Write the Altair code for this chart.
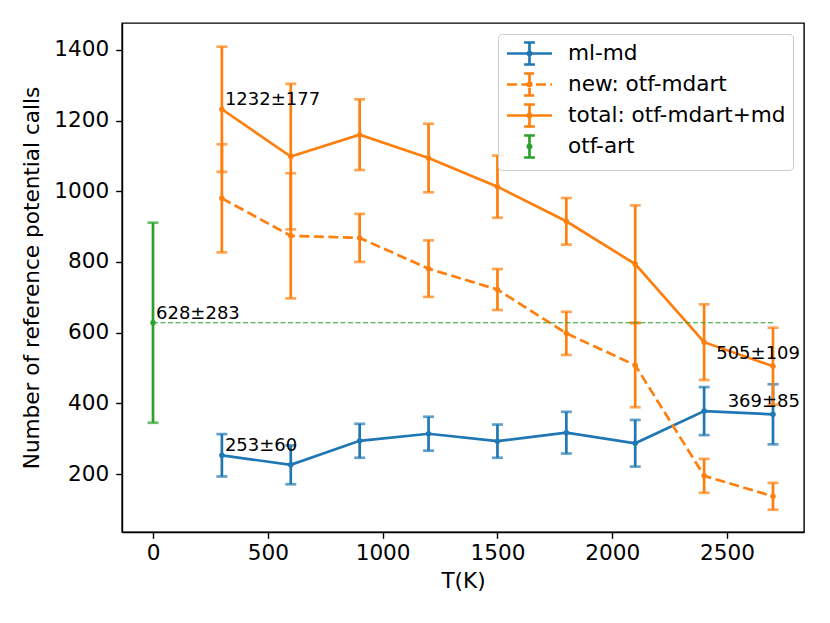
import altair as alt
import pandas as pd

# ---------------- data ----------------
T = [300, 600, 900, 1200, 1500, 1800, 2100, 2400, 2700]
ml_md = [253, 226, 294, 314, 293, 317, 287, 378, 369]
ml_md_err = [60, 55, 48, 48, 47, 59, 66, 68, 85]
new_mdart = [980, 874, 868, 781, 722, 598, 508, 195, 137]
new_mdart_err = [153, 177, 68, 80, 58, 61, 119, 48, 38]
total = [1232, 1098, 1160, 1094, 1013, 915, 794, 573, 505]
total_err = [177, 206, 100, 97, 88, 66, 166, 107, 109]
art_T = [0]
art = [628]
art_err = [283]
hline_T = [0, 2700]

names = ["ml-md", "new: otf-mdart", "total: otf-mdart+md", "otf-art"]
colors = ["#1f77b4", "#ff7f0e", "#ff7f0e", "#2ca02c"]

ann_left_text = ["1232±177", "628±283", "253±60"]
ann_left_T = [300, 0, 300]
ann_left_v = [1232, 628, 253]
ann_right_text = ["505±109", "369±85"]
ann_right_T = [2700, 2700]
ann_right_v = [505, 369]

x_ticks = [0, 500, 1000, 1500, 2000, 2500]
y_ticks = [200, 400, 600, 800, 1000, 1200, 1400]


def frame(name, xs, vs, es):
    return pd.DataFrame({
        "series": name,
        "T": xs,
        "value": vs,
        "lo": [v - e for v, e in zip(vs, es)],
        "hi": [v + e for v, e in zip(vs, es)],
    })


df_ml = frame(names[0], T, ml_md, ml_md_err)
df_new = frame(names[1], T, new_mdart, new_mdart_err)
df_tot = frame(names[2], T, total, total_err)
df_art = frame(names[3], art_T, art, art_err)
df_h = pd.DataFrame({"T": hline_T, "value": [art[0]] * len(hline_T)})
df_annL = pd.DataFrame({"text": ann_left_text, "T": ann_left_T, "value": ann_left_v})
df_annR = pd.DataFrame({"text": ann_right_text, "T": ann_right_T, "value": ann_right_v})
df_leg = pd.concat([d.head(1) for d in [df_ml, df_new, df_tot, df_art]])

FONT = "DejaVu Sans"
FS = 21.6
LW = 2.7

xscale = alt.Scale(domain=[-135, 2835], nice=False, zero=False)
yscale = alt.Scale(domain=[36, 1476], nice=False, zero=False)
X = alt.X("T:Q", scale=xscale,
          axis=alt.Axis(values=x_ticks, format="d", title="T(K)", titlePadding=7, labelPadding=4))
Y = alt.Y("value:Q", scale=yscale,
          axis=alt.Axis(values=y_ticks, format="d", labelPadding=7,
                        title="Number of reference potential calls", titlePadding=10))


def series_layers(df, color, dash=None, line=True):
    base = alt.Chart(df)
    rule = base.mark_rule(color=color, strokeWidth=LW).encode(
        x=X, y=alt.Y("lo:Q", scale=yscale), y2="hi:Q")
    cap_lo = base.mark_tick(color=color, orient="horizontal", size=11, thickness=LW).encode(
        x=X, y=alt.Y("lo:Q", scale=yscale))
    cap_hi = base.mark_tick(color=color, orient="horizontal", size=11, thickness=LW).encode(
        x=X, y=alt.Y("hi:Q", scale=yscale))
    pts = base.mark_point(color=color, filled=True, size=30, opacity=1).encode(x=X, y=Y)
    layers = [rule, cap_lo, cap_hi]
    if line:
        kw = dict(color=color, strokeWidth=LW)
        if dash:
            kw["strokeDash"] = dash
        layers.append(base.mark_line(**kw).encode(x=X, y=Y))
    layers.append(pts)
    return layers


P_LINE = ("M-2.05,0H2.05M0,-1V1M-0.49,-1H0.49M-0.49,1H0.49"
          "M-0.15,0A0.15,0.15 0 1,0 0.15,0A0.15,0.15 0 1,0 -0.15,0Z")
P_BAR = ("M0,-1V1M-0.49,-1H0.49M-0.49,1H0.49"
         "M-0.15,0A0.15,0.15 0 1,0 0.15,0A0.15,0.15 0 1,0 -0.15,0Z")

leg = alt.Legend(title=None, orient="none", legendX=376, legendY=11,
                 symbolSize=484, symbolStrokeWidth=LW, symbolOpacity=1,
                 labelFontSize=FS, labelFont=FONT, labelColor="black", labelLimit=500,
                 labelOffset=26, rowPadding=-2, padding=7, symbolOffset=12,
                 fillColor="rgba(255,255,255,0.8)", strokeColor="#cccccc",
                 cornerRadius=4)

carrier = alt.Chart(df_leg).mark_point(opacity=0, filled=True).encode(
    x=X, y=Y,
    shape=alt.Shape("series:N", scale=alt.Scale(domain=names, range=[P_LINE, P_LINE, P_LINE, P_BAR]), legend=leg),
    fill=alt.Fill("series:N", scale=alt.Scale(domain=names, range=colors), legend=leg),
    stroke=alt.Stroke("series:N", scale=alt.Scale(domain=names, range=colors), legend=leg),
    strokeDash=alt.StrokeDash("series:N", scale=alt.Scale(domain=names, range=[[1, 0], [10, 4.5], [1, 0], [1, 0]]), legend=leg),
)

hline = alt.Chart(df_h).mark_line(color="#2ca02c", strokeWidth=1.2, strokeDash=[5, 2.5]).encode(x=X, y=Y)

annL = alt.Chart(df_annL).mark_text(align="left", baseline="alphabetic", dx=3, dy=-4,
                                    fontSize=18, font=FONT, color="black").encode(x=X, y=Y, text="text:N")
annR = alt.Chart(df_annR).mark_text(align="right", baseline="alphabetic", dx=27, dy=-7,
                                    fontSize=18, font=FONT, color="black").encode(x=X, y=Y, text="text:N")

layers = []
layers += series_layers(df_ml, colors[0])
layers += series_layers(df_new, colors[1], dash=[10, 4.5])
layers += series_layers(df_tot, colors[2])
layers += series_layers(df_art, colors[3], line=False)
layers += [hline, annL, annR, carrier]

chart = alt.layer(*layers).properties(
    width=682, height=509,
    autosize=alt.AutoSizeParams(type="none"),
    padding={"left": 114, "top": 15, "right": 18, "bottom": 60},
).configure_view(
    stroke="black", strokeWidth=1.4
).configure_axis(
    grid=False, domainColor="black", domainWidth=1.4, tickColor="black", tickWidth=1.4,
    tickSize=6.3, labelFontSize=FS, labelFont=FONT, labelColor="black",
    titleFontSize=FS, titleFont=FONT, titleFontWeight="normal", titleColor="black",
)

chart.save("out.html", embed_options={"renderer": "svg", "actions": False})
